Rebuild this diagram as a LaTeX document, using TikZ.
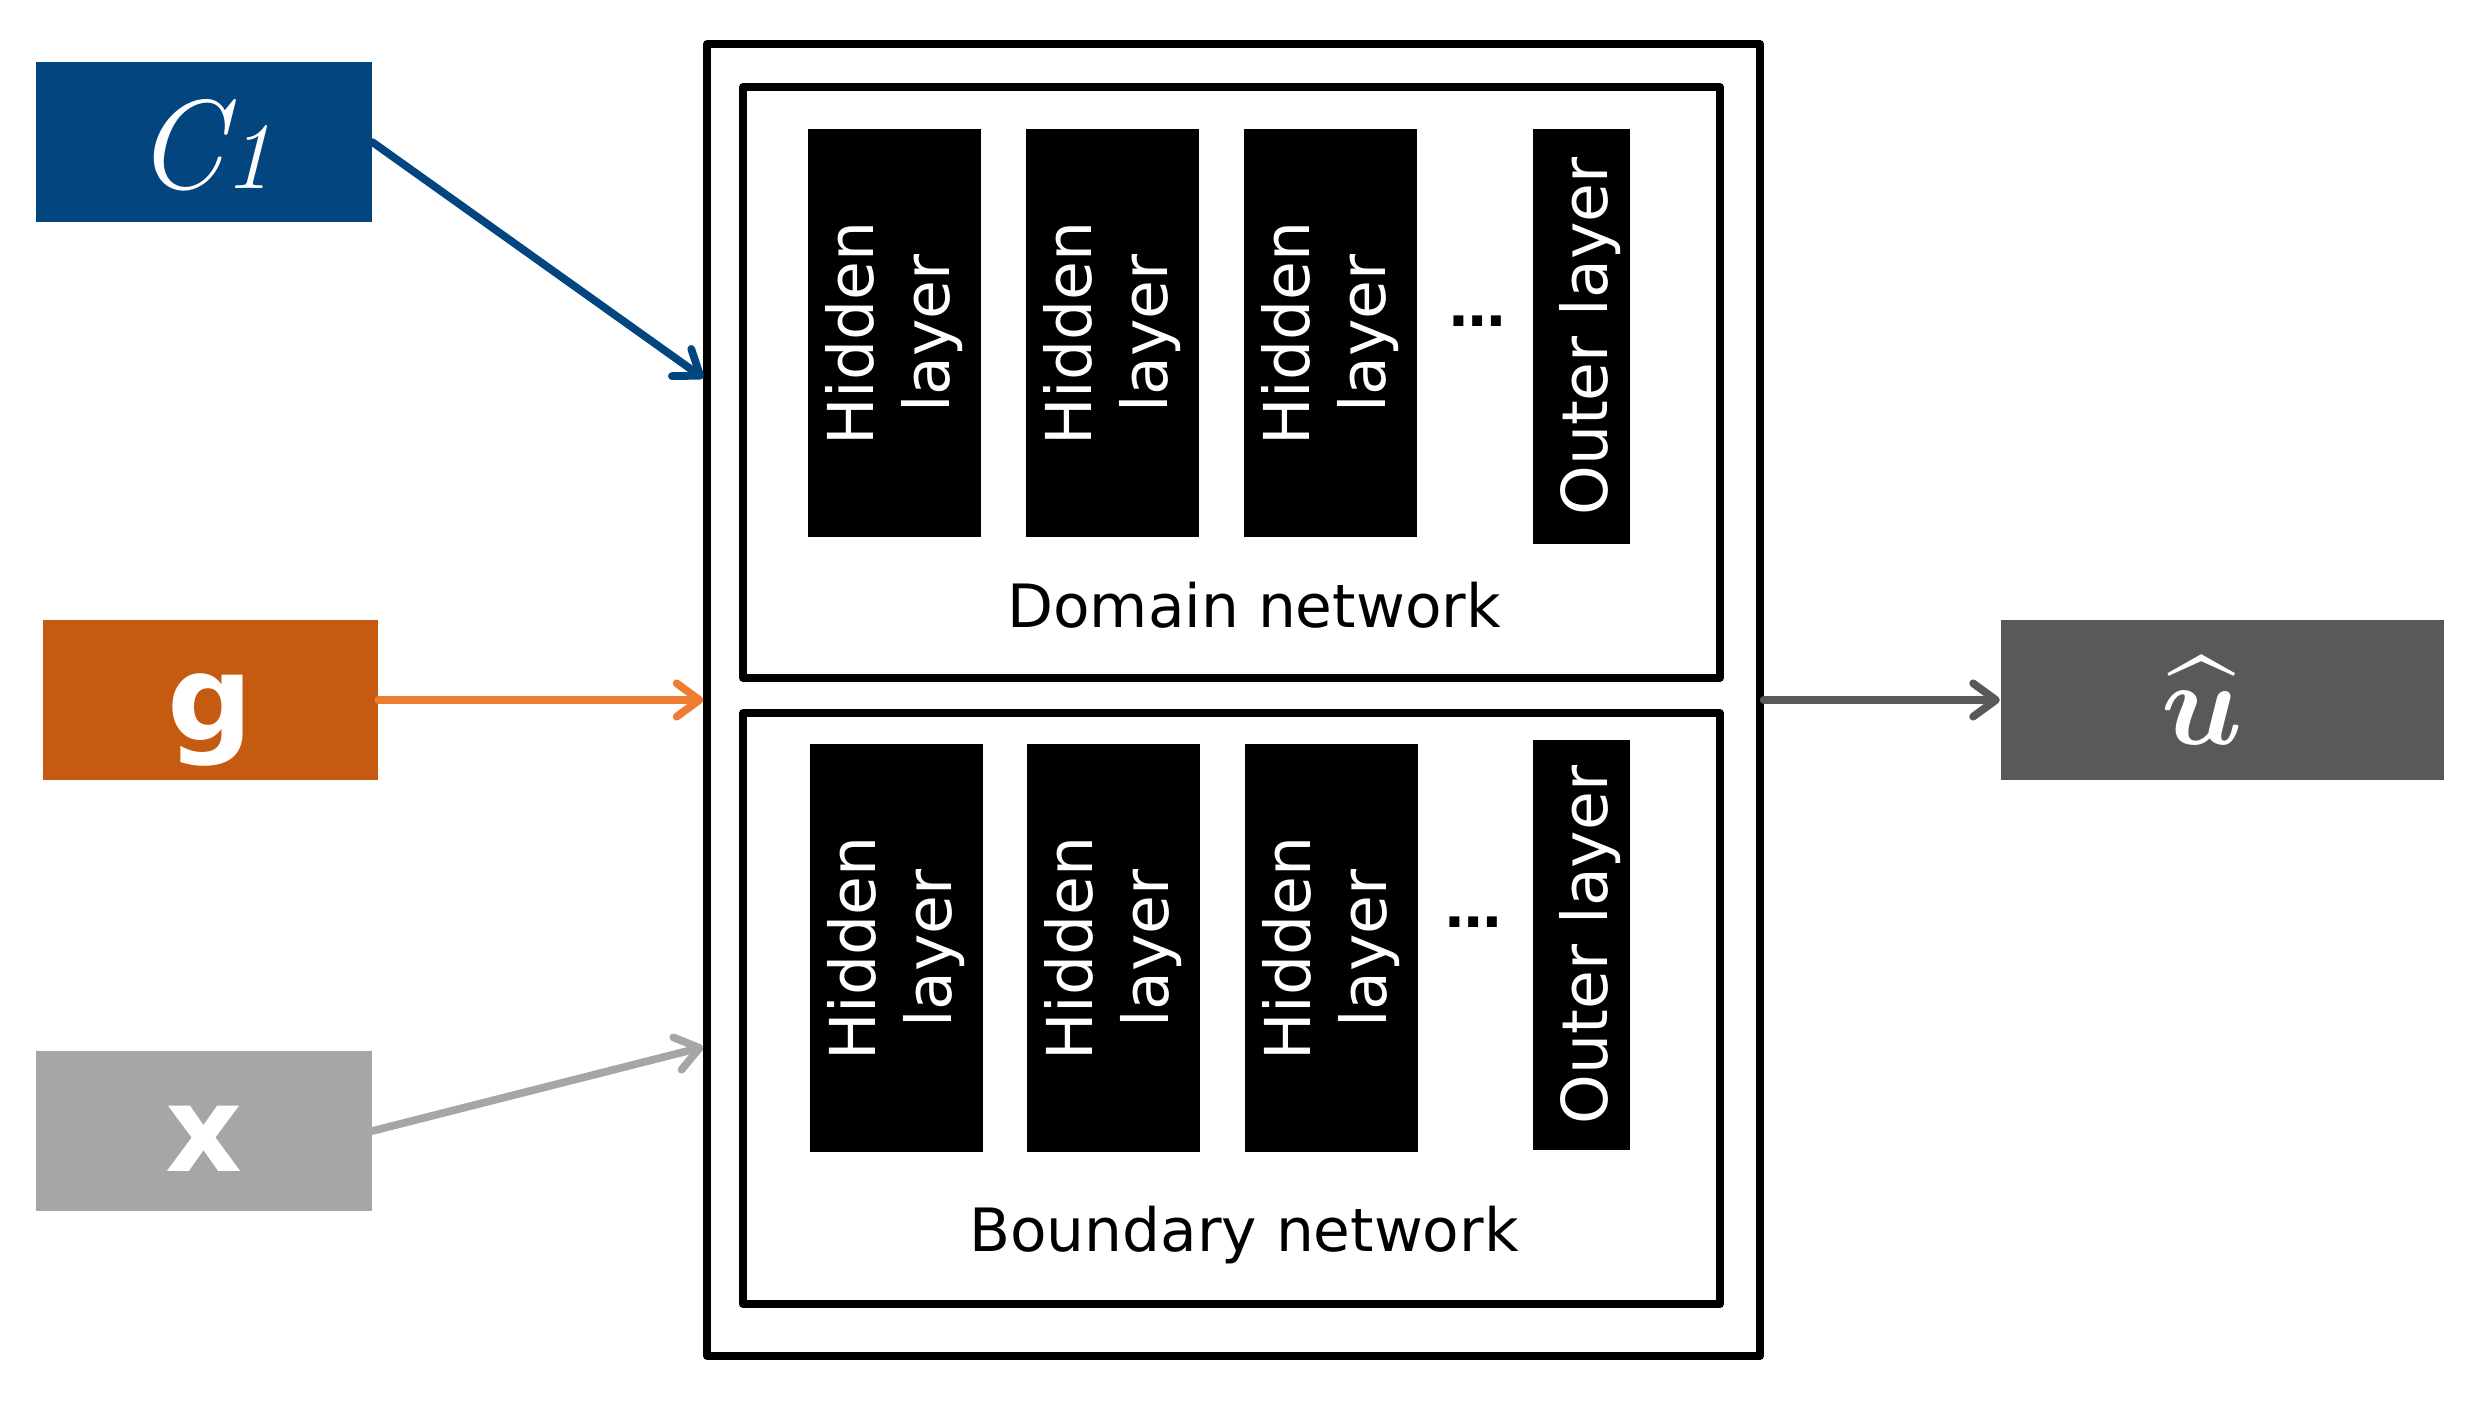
\documentclass[tikz,border=0pt]{standalone}
\usepackage{fix-cm}
\usepackage{amsmath}
\usepackage{amssymb}
\usepackage{fontspec}
\setsansfont{DejaVu Sans}
\usetikzlibrary{arrows.meta}
\definecolor{cblue}{HTML}{03467F}
\definecolor{gorange}{HTML}{C55A11}
\definecolor{garrow}{HTML}{ED7D31}
\definecolor{xgray}{HTML}{A6A6A6}
\definecolor{ugray}{HTML}{595959}

\begin{document}
\begin{tikzpicture}[
    inbox/.style={minimum width=3.35cm,minimum height=1.6cm,inner sep=0pt,text=white,text height=1cm,text depth=0.18cm},
    frame/.style={draw=black,line width=2.1pt,line join=round,minimum width=9.77cm,minimum height=5.91cm,inner sep=0pt},
    hidden/.style={fill=black,text=white,rotate=90,minimum width=4.08cm,minimum height=1.73cm,inner sep=0pt,align=center,font=\sffamily\fontsize{18}{21.5}\selectfont,execute at begin node={\rule{0pt}{0.67cm}}},
    outl/.style={hidden,minimum height=0.97cm},
    netlabel/.style={anchor=base,inner sep=0pt,font=\sffamily\fontsize{17}{20}\selectfont},
    dots/.style={inner sep=0pt,font=\sffamily\bfseries\fontsize{16}{18}\selectfont},
    arr/.style={line width=2.2pt,line cap=round,-{Straight Barb[length=6.5pt,width=9.5pt,round]}}
]
            \useasboundingbox (0,0) rectangle (24.73,-14.01);

            \node[inbox,fill=cblue,text depth=0.06cm] (c1) at (2.04,-1.42) {\fontsize{36}{40}\selectfont\itshape C\fontsize{27}{30}\selectfont 1};
            \node[inbox,fill=gorange,font=\sffamily\bfseries\fontsize{34}{40}\selectfont] (g) at (2.10,-7.00) {g};
            \node[inbox,fill=xgray,font=\sffamily\bfseries\fontsize{34}{40}\selectfont] (x) at (2.04,-11.31) {x};
            \node[inbox,fill=ugray,minimum width=4.43cm,text depth=0.1cm,font=\fontsize{34}{40}\selectfont] (uhat) at (22.22,-7.00) {$\widehat{\boldsymbol{u}}$\hspace*{0.4cm}};

            \node[frame,minimum width=10.53cm,minimum height=13.12cm] (outer) at (12.335,-7.00) {};
            \node[frame] (domain) at (12.315,-3.825) {};
            \node[frame] (boundary) at (12.315,-10.085) {};

            \node[hidden] (dh1) at (8.94,-3.335) {Hidden\\layer};
            \node[hidden] (dh2) at (11.12,-3.335) {Hidden\\layer};
            \node[hidden] (dh3) at (13.30,-3.335) {Hidden\\layer};
            \node[dots] (ddots) at (14.78,-3.21) {\ldots};
            \node[outl,minimum width=4.15cm] (dout) at (15.81,-3.365) {Outer layer};
            \node[netlabel] (dlbl) at (12.54,-6.28) {Domain network};

            \node[hidden] (bh1) at (8.96,-9.485) {Hidden\\layer};
            \node[hidden] (bh2) at (11.13,-9.485) {Hidden\\layer};
            \node[hidden] (bh3) at (13.31,-9.485) {Hidden\\layer};
            \node[dots] (bdots) at (14.74,-9.22) {\ldots};
            \node[outl,minimum width=4.10cm] (bout) at (15.81,-9.45) {Outer layer};
            \node[netlabel] (blbl) at (12.44,-12.52) {Boundary network};

            \coordinate (inC) at ([yshift=3.22cm]outer.west);
            \coordinate (inX) at ([yshift=-3.47cm]outer.west);
            \draw[arr,cblue] (c1.east) -- (inC);
            \draw[arr,garrow] (g.east) -- (outer.west);
            \draw[arr,xgray] (x.east) -- (inX);
            \draw[arr,ugray] (outer.east) -- (uhat.west);
\end{tikzpicture}
\end{document}
